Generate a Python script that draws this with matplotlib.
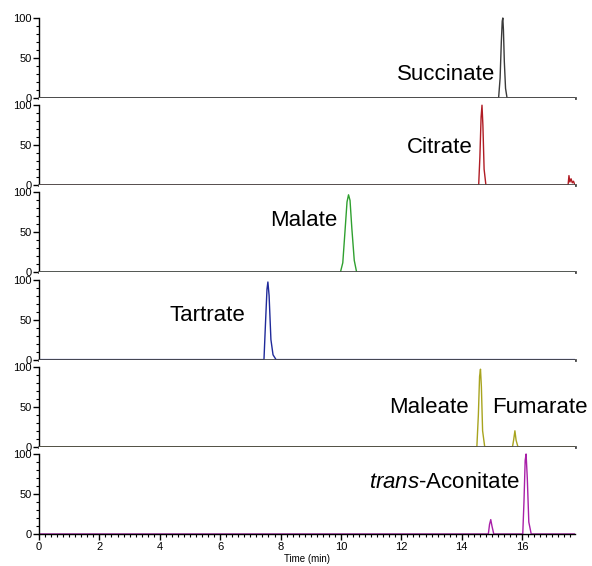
import matplotlib
matplotlib.use("Agg")
import matplotlib.pyplot as plt
from matplotlib.ticker import MultipleLocator

plt.rcParams['font.family'] = ['Liberation Sans', 'DejaVu Sans']
plt.rcParams['mathtext.fontset'] = 'custom'
plt.rcParams['mathtext.it'] = 'Liberation Sans:italic'
plt.rcParams['mathtext.rm'] = 'Liberation Sans'

# traces: time (min) and relative intensity (%)
succ_t = [0, 15.22, 15.27, 15.31, 15.34, 15.36, 15.38, 15.41, 15.45, 15.50, 17.75]
succ_y = [0, 0, 25, 70, 96, 100, 85, 45, 12, 0, 0]
citr_t = [0, 14.56, 14.60, 14.64, 14.67, 14.70, 14.74, 14.80, 17.52, 17.55, 17.58, 17.62, 17.66, 17.70, 17.75]
citr_y = [0, 0, 35, 85, 100, 75, 20, 0, 0, 12, 4, 8, 3, 5, 0]
mala_t = [0, 9.98, 10.06, 10.14, 10.20, 10.25, 10.30, 10.36, 10.44, 10.52, 17.75]
mala_y = [0, 0, 12, 55, 88, 97, 90, 55, 15, 0, 0]
tart_t = [0, 7.45, 7.50, 7.55, 7.58, 7.62, 7.68, 7.75, 7.85, 17.75]
tart_y = [0, 0, 45, 88, 97, 80, 25, 6, 0, 0]
male_t = [0, 14.50, 14.55, 14.59, 14.62, 14.65, 14.69, 14.76, 15.68, 15.72, 15.76, 15.80, 15.86, 17.75]
male_y = [0, 0, 40, 88, 97, 75, 20, 0, 0, 9, 20, 8, 0, 0]
acon_t = [0, 14.88, 14.92, 14.96, 15.00, 15.06, 16.02, 16.06, 16.10, 16.13, 16.17, 16.22, 16.30, 17.75]
acon_y = [0, 0, 12, 18, 10, 0, 0, 40, 92, 100, 70, 15, 0, 0]

traces = [(succ_t, succ_y), (citr_t, citr_y), (mala_t, mala_y),
          (tart_t, tart_y), (male_t, male_y), (acon_t, acon_y)]
colors = ['#3a3a3a', '#b01c24', '#2fa02f', '#1f2a9a', '#a8a41e', '#a81fa8']

# labels: (text, x, y, horizontal alignment)
labels = [
    [("Succinate", 15.1, 29, 'right')],
    [("Citrate", 14.35, 47, 'right')],
    [("Malate", 9.88, 65, 'right')],
    [("Tartrate", 6.82, 55, 'right')],
    [("Maleate", 14.22, 49, 'right'), ("Fumarate", 15.0, 49, 'left')],
    [(r"$\it{trans}$-Aconitate", 15.93, 65, 'right')],
]

fig = plt.figure(figsize=(5.92, 5.66), dpi=100)
left, width = 39 / 592, 536 / 592
ph = 87.2 / 566
bottom0 = 32 / 566

for i, ((t, y), col, labs) in enumerate(zip(traces, colors, labels)):
    b = bottom0 + (5 - i) * ph
    ax = fig.add_axes([left, b, width, ph])
    ax.plot(t, y, color=col, lw=1.0, zorder=1)
    ax.set_xlim(0, 17.75)
    ax.set_ylim(0, 109)
    for s in ['top', 'right']:
        ax.spines[s].set_visible(False)
    ax.spines['left'].set_bounds(0, 100)
    ax.spines['left'].set_linewidth(1.0)
    ax.set_yticks([0, 50, 100])
    ax.yaxis.set_minor_locator(MultipleLocator(10))
    ax.tick_params(axis='y', which='major', length=4, width=1, labelsize=8, pad=1)
    ax.tick_params(axis='y', which='minor', length=2.5, width=0.8)
    if i < 5:
        ax.spines['bottom'].set_color('#4a4a4a')
        ax.spines['bottom'].set_linewidth(2.0)
        ax.spines['bottom'].set_zorder(3)
        ax.set_xticks([])
    else:
        ax.spines['bottom'].set_linewidth(1.0)
        ax.spines['bottom'].set_zorder(3)
        ax.xaxis.set_major_locator(MultipleLocator(2))
        ax.xaxis.set_minor_locator(MultipleLocator(0.2))
        ax.tick_params(axis='x', which='major', length=4, width=1, labelsize=8, pad=2)
        ax.tick_params(axis='x', which='minor', length=2, width=0.8)
        ax.set_xlabel("Time (min)", fontsize=7, labelpad=1)
    for txt, x, yy, ha in labs:
        ax.text(x, yy, txt, fontsize=16, ha=ha, va='center', clip_on=False)

fig.savefig("out.png", dpi=100)
